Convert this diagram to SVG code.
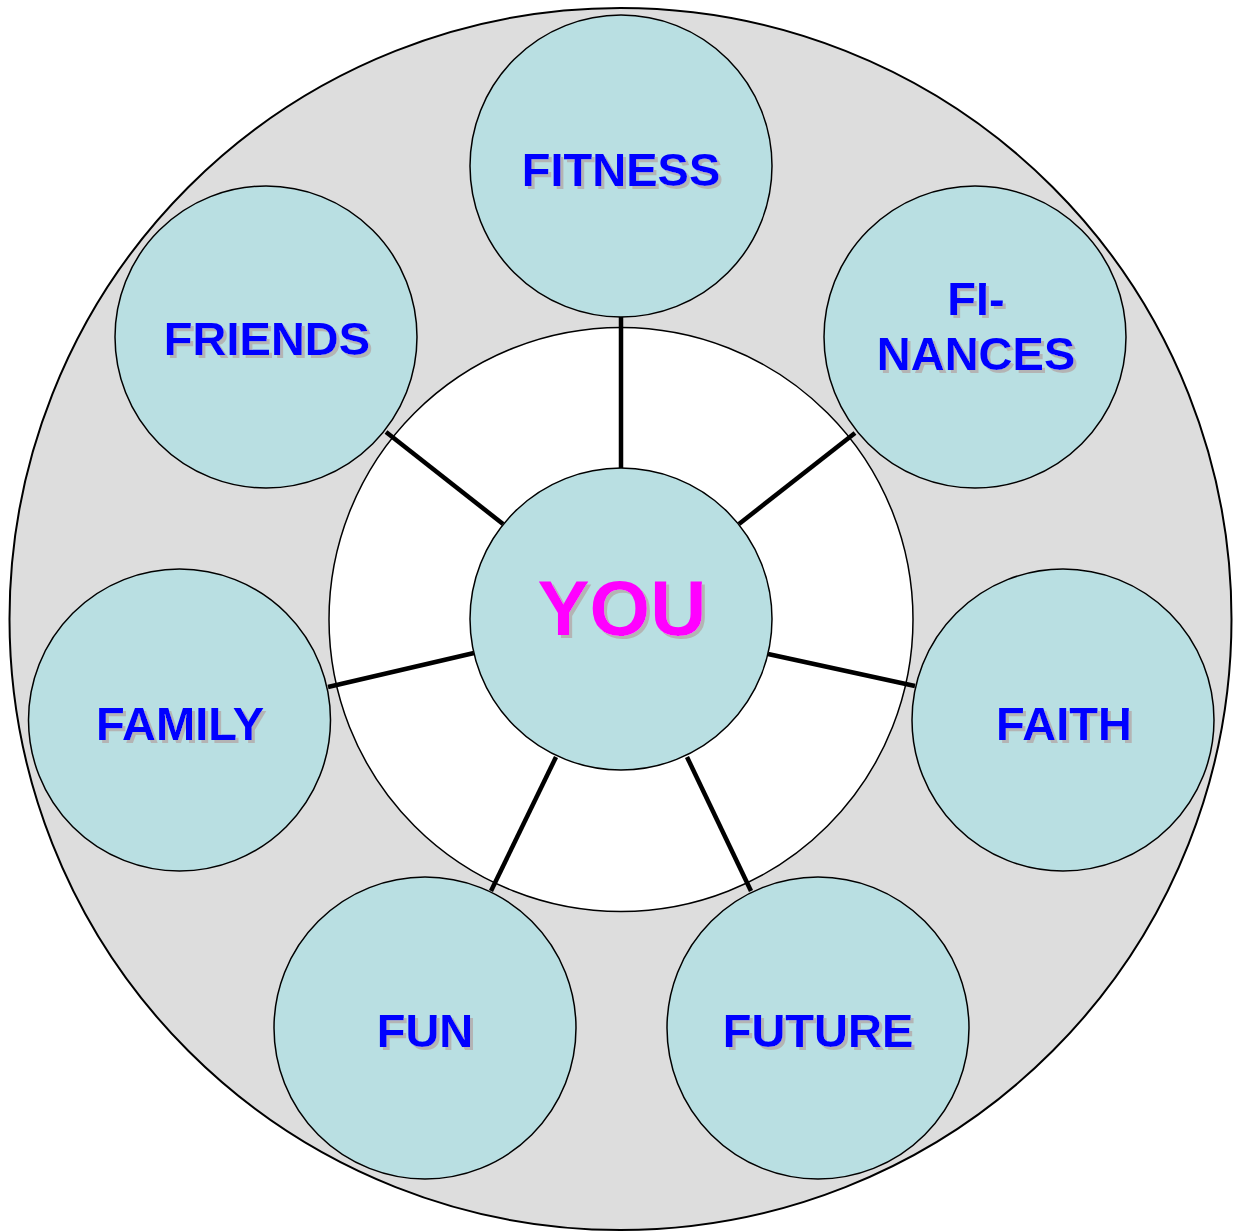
<svg xmlns="http://www.w3.org/2000/svg" width="1233" height="1231" viewBox="0 0 1233 1231">
<defs>
<filter id="shadow" x="-10%" y="-20%" width="130%" height="150%">
<feOffset in="SourceAlpha" dx="3" dy="3" result="off"/>
<feFlood flood-color="#b4b4b4"/>
<feComposite in2="off" operator="in" result="sh"/>
<feMerge><feMergeNode in="sh"/><feMergeNode in="SourceGraphic"/></feMerge>
</filter>
<style>
.node circle{fill:#b9dfe2;stroke:#000;stroke-width:1.5}
.lbl{font-family:"Liberation Sans",Arial,sans-serif;font-weight:bold;font-size:47px;text-anchor:middle;fill:#0000ff;filter:url(#shadow)}
.you .lbl{fill:#ff00ff;font-size:78px}
.conn line{stroke:#000;stroke-width:4.5}
</style>
</defs>
<rect width="1233" height="1231" fill="#fff"/>
<circle cx="620.5" cy="619" r="611" fill="#dddddd" stroke="#000" stroke-width="2"/>
<circle cx="621" cy="619.5" r="292" fill="#fff" stroke="#000" stroke-width="1.5"/>
<g id="connectors" class="conn">
<line x1="621" y1="317" x2="621" y2="468"/>
<line x1="386" y1="432" x2="503" y2="524"/>
<line x1="855" y1="433" x2="739" y2="524"/>
<line x1="328" y1="687" x2="474" y2="653"/>
<line x1="768" y1="654" x2="915" y2="686"/>
<line x1="556" y1="757" x2="491" y2="891"/>
<line x1="687" y1="757" x2="751" y2="891"/>
</g>
<g id="you" class="node you">
<circle cx="621" cy="619" r="151"/>
<text class="lbl" x="622" y="635">YOU</text>
</g>
<g id="fitness" class="node">
<circle cx="621" cy="166" r="151"/>
<text class="lbl" x="621" y="186">FITNESS</text>
</g>
<g id="friends" class="node">
<circle cx="266" cy="337" r="151"/>
<text class="lbl" x="267" y="355">FRIENDS</text>
</g>
<g id="finances" class="node">
<circle cx="975" cy="337" r="151"/>
<text class="lbl" x="976" y="315">FI-</text>
<text class="lbl" x="976" y="370">NANCES</text>
</g>
<g id="family" class="node">
<circle cx="179.5" cy="720" r="151"/>
<text class="lbl" x="180" y="740">FAMILY</text>
</g>
<g id="faith" class="node">
<circle cx="1063" cy="720" r="151"/>
<text class="lbl" x="1064" y="740">FAITH</text>
</g>
<g id="fun" class="node">
<circle cx="425" cy="1028" r="151"/>
<text class="lbl" x="425" y="1047">FUN</text>
</g>
<g id="future" class="node">
<circle cx="818" cy="1028" r="151"/>
<text class="lbl" x="818" y="1047">FUTURE</text>
</g>
</svg>
